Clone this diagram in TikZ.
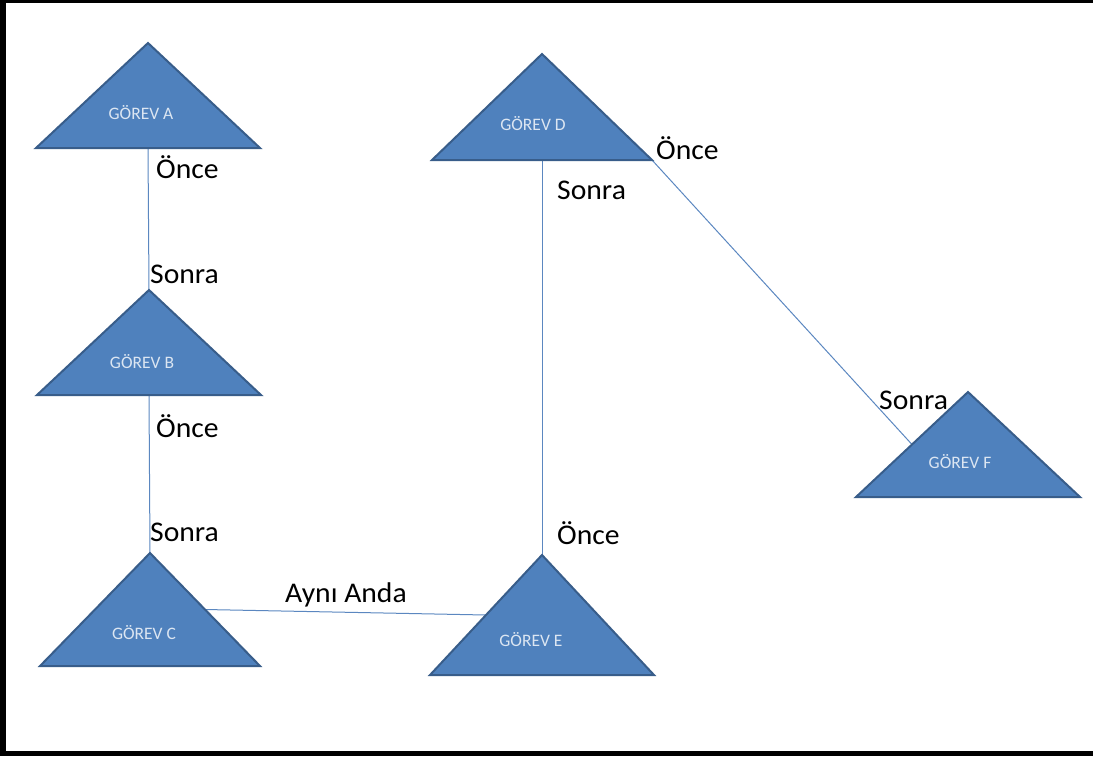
\documentclass[tikz,border=0pt]{standalone}
\usepackage{fontspec}
\setmainfont{Carlito}
\usetikzlibrary{calc,backgrounds}
\definecolor{taskfill}{HTML}{4F81BD}
\definecolor{taskedge}{HTML}{385D8A}
\definecolor{tasktext}{HTML}{DCE6F2}
\definecolor{linkline}{HTML}{5B87C0}

% #1 name, #2 apex x, #3 apex y, #4 base y, #5 half base width,
% #6 label x, #7 label y, #8 label text
\newcommand\tasktri[8]{%
  \coordinate (#1-top) at (#2,#3);
  \coordinate (#1-left) at ({#2-#5},#4);
  \coordinate (#1-right) at ({#2+#5},#4);
  \coordinate (#1-base) at (#2,#4);
  \draw[task] (#1-top) -- (#1-right) -- (#1-left) -- cycle;
  \node[tasklabel] (#1) at (#6,#7) {#8};}

\begin{document}
\begin{tikzpicture}[x=1pt,y=-1pt,
  task/.style={fill=taskfill,draw=taskedge,line width=2pt,line join=miter},
  tasklabel/.style={text=tasktext,font=\fontsize{17.5}{18}\selectfont,inner sep=0pt},
  rel/.style={font=\fontsize{28.5}{30}\selectfont,anchor=base west,inner sep=0pt,xscale=1.04},
  link/.style={draw=linkline,line width=1pt}]
\useasboundingbox (0,0) rectangle (1093,756);
% frame: left, top and bottom edges
\fill (0,0) rectangle (6,756);
\fill (0,0) rectangle (1093,3);
\fill (0,751) rectangle (1093,756);

% task triangles
\tasktri{A}{148}{43}{148}{112}{141}{113}{GÖREV A}
\tasktri{B}{149}{290}{395}{112}{142}{362}{GÖREV B}
\tasktri{C}{150}{553}{666}{110}{144}{633}{GÖREV C}
\tasktri{D}{542}{54}{160}{110}{533}{124}{GÖREV D}
\tasktri{E}{542}{555}{675}{112}{531}{640}{GÖREV E}
\tasktri{F}{968}{392}{497}{112}{960}{462}{GÖREV F}

% dependency links, kept behind the triangles
\begin{pgfonlayer}{background}
  \coordinate (F-in) at ($(F-left)!0.5!(F-top)$);
  \coordinate (C-out) at ($(C-top)!0.5!(C-right)$);
  \coordinate (E-in) at ($(E-left)!0.5!(E-top)$);
  \draw[link] (A-base) -- (B-top);
  \draw[link] (B-base) -- (C-top);
  \draw[link] (D-base) -- (E-top);
  \draw[link] (D-right) -- (F-in);
  \draw[link] (C-out) -- (E-in);
\end{pgfonlayer}

% relation labels
\node[rel] (a1) at (156,178) {Önce};
\node[rel] (b1) at (150,283) {Sonra};
\node[rel] (b2) at (156,437) {Önce};
\node[rel] (c1) at (150,541) {Sonra};
\node[rel] (ce) at (285,602) {Aynı Anda};
\node[rel] (d1) at (656,159) {Önce};
\node[rel] (d2) at (557,199) {Sonra};
\node[rel] (e1) at (557,544) {Önce};
\node[rel] (f1) at (879,409) {Sonra};
\end{tikzpicture}
\end{document}
